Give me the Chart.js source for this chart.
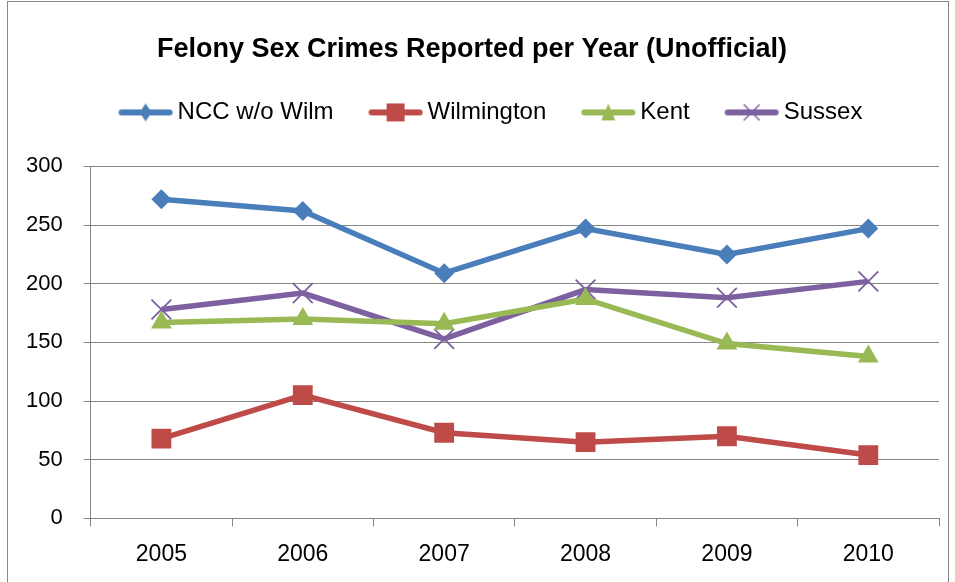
<!DOCTYPE html>
<html>
<head>
<meta charset="utf-8">
<script src="https://cdn.jsdelivr.net/npm/chart.js@4"></script>
<style>
  html, body { margin: 0; padding: 0; background: #fff; overflow: hidden; }
  #wrap { position: relative; width: 955px; height: 582px; overflow: hidden; }
  #frame { position: absolute; left: 7px; top: 1px; width: 940px; height: 600px; border: 1px solid #868686; pointer-events: none; }
</style>
</head>
<body>
<div id="wrap">
  <canvas id="chart" width="955" height="582"></canvas>
  <div id="frame"></div>
</div>
<script>
const years = ['2005', '2006', '2007', '2008', '2009', '2010'];
const nccNoWilm = [272, 262, 209, 247, 225, 247];
const wilmington = [68, 105, 73, 65, 70, 54];
const kent = [167, 170, 166, 187, 149, 138];
const sussex = [178, 192, 153, 195, 188, 202];

const FONT = "'Liberation Sans', Arial, sans-serif";
const GRID = '#868686';

// legend icon: short thick line with the series marker in the middle
function legendIcon(color, style) {
  const c = document.createElement('canvas');
  c.width = 56; c.height = 22;
  const ctx = c.getContext('2d');
  ctx.strokeStyle = color;
  ctx.fillStyle = color;
  ctx.lineWidth = 6;
  ctx.lineCap = 'round';
  ctx.beginPath();
  ctx.moveTo(4, 11); ctx.lineTo(52, 11);
  ctx.stroke();
  ctx.beginPath();
  if (style === 'rectRot') {
    ctx.moveTo(28, 2); ctx.lineTo(34, 11); ctx.lineTo(28, 20); ctx.lineTo(22, 11);
    ctx.closePath(); ctx.fill();
  } else if (style === 'rect') {
    ctx.fillRect(19, 2, 18, 18);
  } else if (style === 'triangle') {
    ctx.moveTo(28, 2); ctx.lineTo(35, 19); ctx.lineTo(21, 19);
    ctx.closePath(); ctx.fill();
  } else {
    ctx.lineWidth = 1.5;
    ctx.lineCap = 'butt';
    ctx.moveTo(20, 3); ctx.lineTo(36, 19);
    ctx.moveTo(36, 3); ctx.lineTo(20, 19);
    ctx.stroke();
  }
  return c;
}

function series(label, data, color, style, radius) {
  return {
    label: label,
    data: data,
    borderColor: color,
    backgroundColor: color,
    borderWidth: 5.5,
    pointStyle: style,
    pointRadius: radius,
    pointHoverRadius: radius,
    pointBorderWidth: style === 'crossRot' ? 1.8 : 0,
    pointBorderColor: color,
    pointBackgroundColor: color,
    tension: 0,
    fill: false,
    icon: legendIcon(color, style)
  };
}

const data = {
  labels: years,
  datasets: [
    series('NCC w/o Wilm', nccNoWilm, '#4A7EBB', 'rectRot', 10),
    series('Wilmington', wilmington, '#BE4B48', 'rect', 14),
    series('Kent', kent, '#98B954', 'triangle', 12),
    series('Sussex', sussex, '#7D60A0', 'crossRot', 14)
  ]
};

// extra room between legend and plot area, legend row nudged right
const legendGap = {
  id: 'legendGap',
  beforeInit(chart) {
    const fit = chart.legend.fit;
    chart.legend.fit = function () {
      fit.call(this);
      this.height += 32;
      if (this.lineWidths && this.lineWidths.length) this.lineWidths[0] -= 44;
    };
  }
};

const config = {
  type: 'line',
  data: data,
  options: {
    responsive: false,
    animation: false,
    layout: { padding: { left: 5, right: 16, top: 33, bottom: 0 } },
    plugins: {
      title: {
        display: true,
        text: 'Felony Sex Crimes Reported per Year (Unofficial)',
        color: '#000',
        font: { family: FONT, size: 27, weight: 'bold' },
        padding: { top: 0, bottom: -7 }
      },
      legend: {
        display: true,
        labels: {
          usePointStyle: true,
          pointStyleWidth: 40,
          color: '#000',
          font: { family: FONT, size: 24 },
          padding: 42,
          generateLabels(chart) {
            return chart.data.datasets.map((ds, i) => ({
              text: ds.label,
              pointStyle: ds.icon,
              fillStyle: ds.borderColor,
              strokeStyle: ds.borderColor,
              lineWidth: 0,
              hidden: false,
              datasetIndex: i
            }));
          }
        }
      },
      tooltip: { enabled: false }
    },
    scales: {
      x: {
        offset: true,
        grid: {
          offset: true,
          drawOnChartArea: false,
          drawTicks: true,
          tickLength: 8,
          color: GRID
        },
        border: { color: GRID, width: 1 },
        ticks: {
          color: '#000',
          font: { family: FONT, size: 23 },
          padding: 14
        }
      },
      y: {
        min: 0,
        max: 300,
        ticks: {
          stepSize: 50,
          color: '#000',
          font: { family: FONT, size: 22 },
          padding: 21
        },
        grid: { color: GRID, lineWidth: 1, tickLength: 7 },
        border: { color: GRID, width: 1 }
      }
    }
  },
  plugins: [legendGap]
};

const myChart = new Chart(document.getElementById('chart'), config);
</script>
</body>
</html>
